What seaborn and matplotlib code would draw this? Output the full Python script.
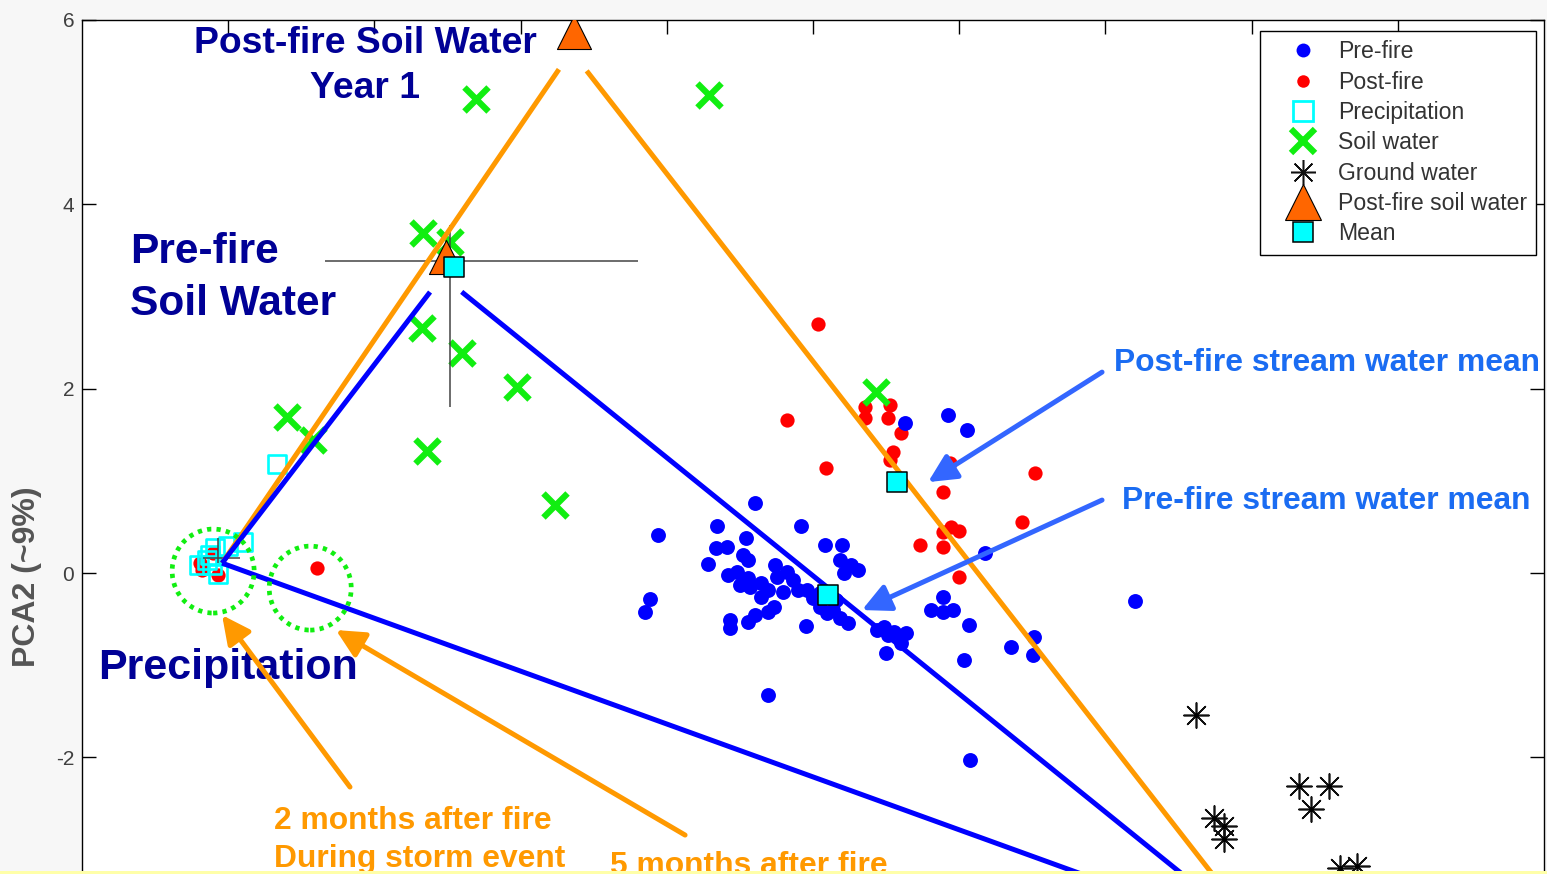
import numpy as np
import matplotlib
matplotlib.use("Agg")
import matplotlib.pyplot as plt
from matplotlib.lines import Line2D
from matplotlib.patches import Ellipse, Rectangle
import seaborn as sns

# ---- PCA scores (PC1, PC2) ----
prefire_pc1 = [0.626, 0.921, 1.051, -0.400, -1.058, -0.654, -0.079, -0.455, -0.661, -0.585,
               -0.715, -0.476, -0.448, 0.079, 0.195, 0.188, 0.257, 0.305, 0.209, -0.578,
               -0.517, -0.448, -0.428, -0.359, -0.305, -0.257, -0.243, -0.175, -0.202, -0.134,
               -0.106, -0.038, 0.003, 0.051, 0.099, 0.140, 0.188, 0.236, -1.112, -1.147,
               -0.565, -0.565, -0.448, -0.394, -0.311, -0.270, -0.045, 0.441, 0.483, 0.510,
               0.551, 0.633, 0.599, 0.496, 1.174, 0.886, 0.804, 0.886, 0.955, 1.064,
               1.030, 1.352, 1.509, 1.502, 1.071, 2.201, -0.311, 0.051, 0.154, -0.359, -0.496]
prefire_pc2 = [1.627, 1.714, 1.551, 0.759, 0.412, 0.510, 0.510, 0.380, 0.271, 0.282,
               0.098, 0.195, 0.141, 0.304, 0.304, 0.141, 0.087, 0.033, 0.000, -0.022,
               0.011, -0.054, -0.152, -0.108, -0.184, 0.087, -0.043, 0.011, -0.206, -0.076,
               -0.184, -0.184, -0.271, -0.369, -0.434, -0.401, -0.488, -0.542, -0.282, -0.423,
               -0.510, -0.597, -0.531, -0.456, -0.423, -0.369, -0.575, -0.618, -0.586, -0.672,
               -0.640, -0.651, -0.759, -0.868, 0.217, -0.260, -0.401, -0.423, -0.401, -0.564,
               -0.944, -0.803, -0.694, -0.889, -2.028, -0.304, -1.323, -0.217, -0.293, -0.260, -0.130]

postfire_pc1 = [0.031, -0.175, 0.086, 0.359, 0.359, 0.530, 0.510, 0.599, 0.544, 0.524,
                0.934, 0.886, 1.516, 1.427, 0.941, 0.886, 1.000, 0.729, 0.886, 1.000,
                -3.392, -4.192, -4.179, -4.069, -4.103]
postfire_pc2 = [2.701, 1.659, 1.139, 1.800, 1.681, 1.822, 1.681, 1.518, 1.312, 1.226,
                1.193, 0.879, 1.085, 0.553, 0.499, 0.445, 0.456, 0.304, 0.282, -0.043,
                0.054, 0.108, 0.033, -0.022, 0.217]

precip_pc1 = [-3.665, -3.898, -4.000, -4.090, -4.124, -4.199, -4.110, -4.069, -4.144]
precip_pc2 = [1.182, 0.336, 0.293, 0.271, 0.195, 0.087, 0.087, -0.011, 0.141]

soil_pc1 = [-2.303, -0.708, -2.666, -2.481, -2.673, -2.399, -2.023, -3.597, -3.419, -2.639, -1.763, 0.428]
soil_pc2 = [5.141, 5.184, 3.688, 3.590, 2.657, 2.386, 2.017, 1.692, 1.443, 1.323, 0.738, 1.963]

ground_pc1 = [2.618, 2.741, 2.810, 2.810, 3.323, 3.528, 3.405, 3.604, 3.720]
ground_pc2 = [-1.540, -2.657, -2.744, -2.885, -2.310, -2.310, -2.560, -3.200, -3.178]

postsoil_pc1 = [-1.632, -2.509]
postsoil_pc2 = [5.868, 3.427]

mean_pc1 = [-2.454, 0.572, 0.106]
mean_pc2 = [3.319, 0.987, -0.239]

# mean +/- spread of pre-fire soil water and precipitation
spread_pc1 = [-2.480, -4.069]
spread_pc2 = [3.384, 0.163]
spread_x_lo = [0.857, 0.103]
spread_x_hi = [1.286, 0.151]
spread_y_lo = [1.584, 0.054]
spread_y_hi = [0.390, 0.217]

# end-members of the mixing triangles
em_precip = (-4.042, 0.108)
em_soil_pre = (-2.536, 3.221)
em_soil_post = (-1.653, 5.662)
em_ground = (3.083, -3.980)

legend_labels = ["Pre-fire", "Post-fire", "Precipitation", "Soil water",
                 "Ground water", "Post-fire soil water", "Mean"]

# ---- style ----
sns.set_theme(style="ticks")
plt.rcParams["font.family"] = ["Liberation Sans", "DejaVu Sans"]

W, H = 1547, 874
fig = plt.figure(figsize=(W / 100, H / 100), dpi=100, facecolor="#f7f7f7")
ax = fig.add_axes([82 / W, -0.13032, (1544 - 82) / W, 1.10745])
ax.set_facecolor("white")
ax.set_xlim(-5, 5)
ax.set_ylim(-4.5, 6)

NAVY = "#000096"
ORANGE = "#ff9900"
LBLUE = "#3366ff"
TBLUE = "#1a6cf2"
GREEN = "#11ee11"
ASTER = (8, 2, 0)

# ---- points ----
sns.scatterplot(x=postfire_pc1, y=postfire_pc2, color="#ff0000", s=105, linewidth=0,
                ax=ax, zorder=3, legend=False)
sns.scatterplot(x=prefire_pc1, y=prefire_pc2, color="#0000ff", s=115, linewidth=0,
                ax=ax, zorder=3, legend=False)
sns.scatterplot(x=precip_pc1, y=precip_pc2, color="#00ffff", marker="s", s=170,
                facecolor="none", edgecolor="#00ffff", linewidth=1.9,
                ax=ax, zorder=4, legend=False)
ax.collections[-1].set_facecolor("none")
sns.scatterplot(x=soil_pc1, y=soil_pc2, color=GREEN, marker="x", s=300, linewidth=4.5,
                ax=ax, zorder=4, legend=False)
sns.scatterplot(x=ground_pc1, y=ground_pc2, color="#111111", marker=ASTER, s=324,
                linewidth=1.2, ax=ax, zorder=4, legend=False)
sns.scatterplot(x=ground_pc1, y=ground_pc2, color="black", s=12, linewidth=0,
                ax=ax, zorder=4, legend=False)

# spread crosshairs
ax.errorbar(spread_pc1, spread_pc2,
            xerr=[spread_x_lo, spread_x_hi], yerr=[spread_y_lo, spread_y_hi],
            fmt="none", ecolor="#444444", elinewidth=1.1, capsize=0, zorder=5)


def segment(p0, p1, gap0=0.0, gap1=0.0):
    """Segment p0->p1 (data units) trimmed by gap0/gap1 display pixels."""
    d0 = ax.transData.transform(p0)
    d1 = ax.transData.transform(p1)
    u = (d1 - d0) / np.hypot(*(d1 - d0))
    pts = ax.transData.inverted().transform([d0 + u * gap0, d1 - u * gap1])
    return pts[:, 0], pts[:, 1]


# mixing lines
for p0, p1, g0, g1, col in [
    (em_precip, em_soil_post, 0, 22, ORANGE),
    (em_soil_post, em_ground, 25, 0, ORANGE),
    (em_precip, em_soil_pre, 0, 20, "#0000ff"),
    (em_soil_pre, em_ground, 25, 0, "#0000ff"),
    (em_precip, em_ground, 0, 0, "#0000ff"),
]:
    xs, ys = segment(p0, p1, g0, g1)
    ax.plot(xs, ys, color=col, lw=3.6, solid_capstyle="butt", zorder=5)

sns.scatterplot(x=postsoil_pc1, y=postsoil_pc2, color="#ff6600", marker="^", s=600,
                edgecolor="black", linewidth=0.8, ax=ax, zorder=6, legend=False)
sns.scatterplot(x=mean_pc1, y=mean_pc2, color="#00ffff", marker="s", s=190,
                edgecolor="black", linewidth=1.1, ax=ax, zorder=7, legend=False)

# dotted circles
for cx, cy in [(-4.103, 0.022), (-3.439, -0.163)]:
    ax.add_patch(Ellipse((cx, cy), 0.561, 0.911, fill=False, edgecolor=GREEN,
                         lw=3.4, linestyle=(0, (0.9, 1.1)), zorder=6))

# ---- labels ----
ax.text(-3.064, 5.498, "Post-fire Soil Water\nYear 1", ha="center", va="center",
        fontsize=26.8, fontweight="bold", color=NAVY, linespacing=1.38, zorder=8)
ax.text(-4.672, 3.200, "Pre-fire\nSoil Water", ha="left", va="center",
        fontsize=30.6, fontweight="bold", color=NAVY, linespacing=1.38, zorder=8)
ax.text(-4.891, -1.030, "Precipitation", ha="left", va="center",
        fontsize=31, fontweight="bold", color=NAVY, zorder=8)
ax.text(2.059, 2.277, "Post-fire stream water mean", ha="left", va="center",
        fontsize=22.9, fontweight="bold", color=TBLUE, zorder=8, clip_on=False)
ax.text(2.114, 0.780, "Pre-fire stream water mean", ha="left", va="center",
        fontsize=22.9, fontweight="bold", color=TBLUE, zorder=8)
ax.text(-3.687, -2.896, "2 months after fire\nDuring storm event", ha="left", va="center",
        fontsize=22.9, fontweight="bold", color=ORANGE, linespacing=1.32, zorder=8)
ax.text(-1.389, -3.177, "5 months after fire", ha="left", va="center",
        fontsize=22.9, fontweight="bold", color=ORANGE, zorder=8)

arrow_kw = dict(arrowstyle="-|>,head_length=0.85,head_width=0.42", mutation_scale=20,
                lw=3.6, shrinkA=0, shrinkB=0)
for tail, tip, col in [
    ((-3.167, -2.321), (-4.042, -0.456), ORANGE),
    ((-0.875, -2.842), (-3.263, -0.618), ORANGE),
    ((1.977, 2.180), (0.787, 0.987), LBLUE),
    ((1.977, 0.792), (0.335, -0.401), LBLUE),
]:
    ax.annotate("", xy=tip, xytext=tail,
                arrowprops=dict(color=col, **arrow_kw), zorder=8)

# ---- axes ----
ax.set_xticks(np.arange(-4, 5, 1))
ax.set_yticks([-2, 0, 2, 4, 6])
ax.set_yticklabels(["-2", "0", "2", "4", "6"])
ax.tick_params(direction="in", length=10, width=1.0, top=True, right=True,
               labelbottom=False, labelleft=True, labelsize=15,
               labelcolor="#404040", color="black", pad=5.5)
for sp in ax.spines.values():
    sp.set_linewidth(1.0)
    sp.set_color("black")
ax.set_xlabel("")
ax.set_ylabel("PCA2 (~9%)", fontsize=23, fontweight="bold", color="#555555")
ax.yaxis.set_label_coords(-0.0274, 0.4245)

# ---- legend ----
handles = [
    Line2D([], [], ls="none", marker="o", ms=10, mfc="#0000ff", mec="none"),
    Line2D([], [], ls="none", marker="o", ms=9, mfc="#ff0000", mec="none"),
    Line2D([], [], ls="none", marker="s", ms=15, mfc="none", mec="#00ffff", mew=2),
    Line2D([], [], ls="none", marker="x", ms=17, mec=GREEN, mew=4.5),
    Line2D([], [], ls="none", marker=ASTER, ms=18, mec="#111111", mew=1.1),
    Line2D([], [], ls="none", marker="^", ms=26, mfc="#ff6600", mec="black", mew=0.8),
    Line2D([], [], ls="none", marker="s", ms=15, mfc="#00ffff", mec="black", mew=1.1),
]
leg = ax.legend(handles, legend_labels, loc="upper right",
                bbox_to_anchor=(1536 / W, 1 - 31 / H), bbox_transform=fig.transFigure,
                borderaxespad=0, fontsize=16.6, frameon=True, fancybox=False,
                edgecolor="black", framealpha=1, handlelength=2.9, handletextpad=0.05,
                borderpad=0.4, labelspacing=0.32)
leg.get_frame().set_linewidth(1.0)
for t in leg.get_texts():
    t.set_color("#333333")
leg.set_zorder(10)

# thin strip along the bottom edge
fig.add_artist(Rectangle((0, 0), 1, 3.5 / H, transform=fig.transFigure,
                         facecolor="#ffffa8", edgecolor="none", zorder=20))

fig.savefig("out.png", dpi=100, facecolor=fig.get_facecolor())
